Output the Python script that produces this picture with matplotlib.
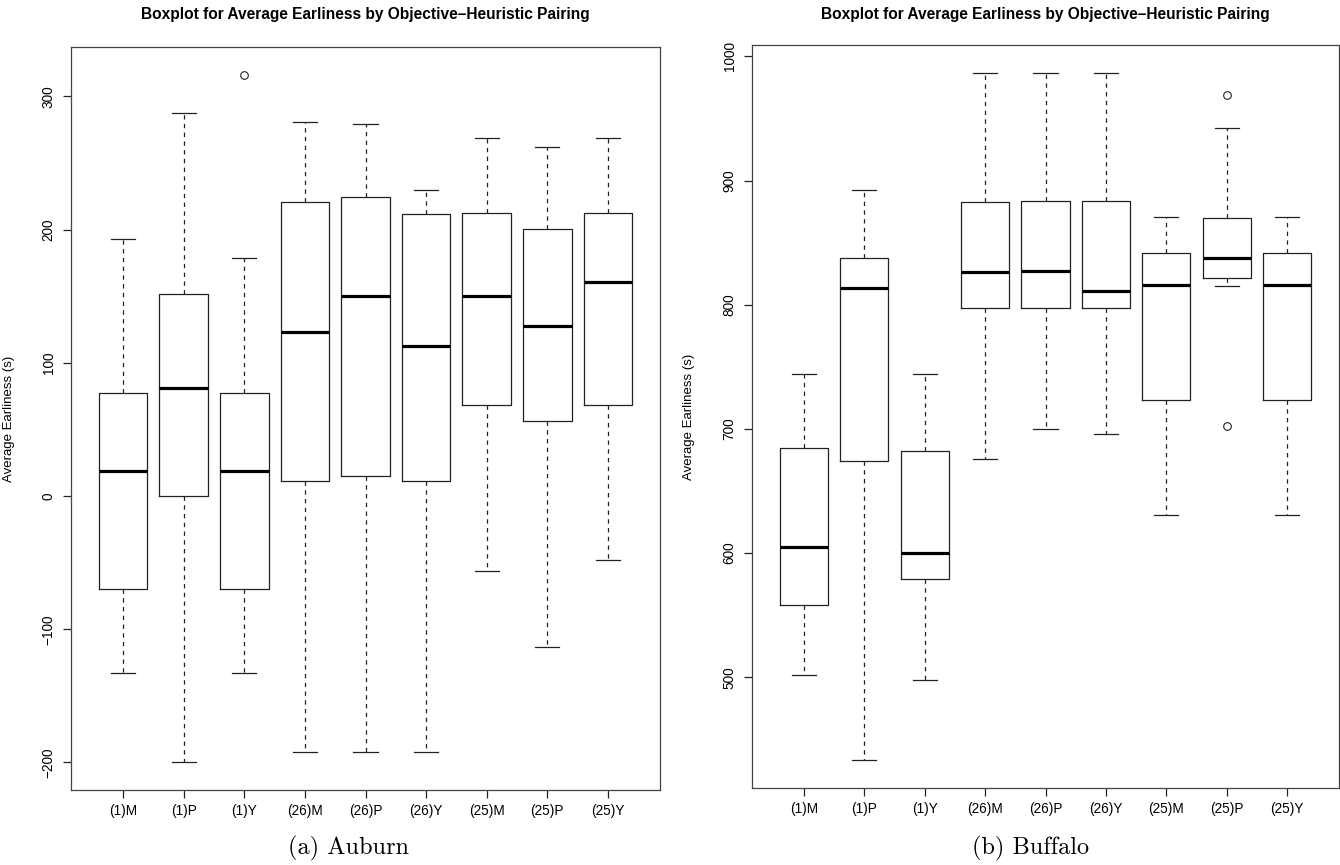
import matplotlib
matplotlib.use("Agg")
import matplotlib.pyplot as plt

categories = ['(1)M', '(1)P', '(1)Y', '(26)M', '(26)P', '(26)Y', '(25)M', '(25)P', '(25)Y']

# Auburn
aub_whislo = [-133, -200, -133, -192, -192, -192, -56, -113, -48]
aub_q1 = [-70, 0, -70, 11, 15, 11, 68.5, 56.5, 68.5]
aub_med = [18.5, 81, 18.5, 123.5, 150, 113, 150.5, 127.5, 160.5]
aub_q3 = [77.5, 152, 77.5, 220.5, 224.5, 211.5, 212.5, 200.5, 212.5]
aub_whishi = [193, 287.5, 179, 281, 279.5, 230, 268.5, 262, 268.5]
aub_fliers = [[], [], [316.5], [], [], [], [], [], []]
aub_yticks = [-200, -100, 0, 100, 200, 300]

# Buffalo
buf_whislo = [501.5, 433, 498, 676, 700, 696, 630.5, 815, 630.5]
buf_q1 = [558, 674, 579, 797, 797, 797, 723, 821.5, 723]
buf_med = [605, 813.5, 600, 826.5, 827, 811, 816, 838, 816]
buf_q3 = [684.5, 838, 682.5, 883, 883.5, 883.5, 842, 870, 842]
buf_whishi = [744, 892, 744, 987, 987, 987, 871, 942, 871]
buf_fliers = [[], [], [], [], [], [], [], [969, 702], []]
buf_yticks = [500, 600, 700, 800, 900, 1000]

title = "Boxplot for Average Earliness by Objective\u2013Heuristic Pairing"
ylabel = "Average Earliness (s)"
captions = ["(a) Auburn", "(b) Buffalo"]

W, H = 1340, 865
fig = plt.figure(figsize=(W / 100, H / 100), dpi=100)
plt.rcParams['font.family'] = ['Liberation Sans', 'DejaVu Sans']

LC = '#222222'
LW = 0.9


def panel(rect_px, whislo, q1, med, q3, whishi, fliers, yticks, caption, cap_x, ylab_x):
    x0, y0, x1, y1 = rect_px
    ax = fig.add_axes([x0 / W, 1 - y1 / H, (x1 - x0) / W, (y1 - y0) / H])
    stats = []
    for i in range(len(categories)):
        stats.append(dict(whislo=whislo[i], q1=q1[i], med=med[i], q3=q3[i],
                          whishi=whishi[i], fliers=fliers[i], label=categories[i]))
    pos = list(range(1, len(categories) + 1))
    ax.bxp(stats, positions=pos, widths=0.8, capwidths=0.4,
           showfliers=True, patch_artist=False,
           boxprops=dict(color=LC, lw=LW),
           whiskerprops=dict(color=LC, lw=LW, linestyle=(0, (3.5, 3.5))),
           capprops=dict(color=LC, lw=LW),
           medianprops=dict(color='black', lw=2.3, solid_capstyle='butt'),
           flierprops=dict(marker='o', markerfacecolor='none', markeredgecolor=LC,
                           markersize=5.5, markeredgewidth=0.8))
    n = len(categories)
    ax.set_xlim(0.5 - 0.04 * n, n + 0.5 + 0.04 * n)
    allv = whislo + whishi + [v for f in fliers for v in f]
    lo, hi = min(allv), max(allv)
    pad = 0.04 * (hi - lo)
    ax.set_ylim(lo - pad, hi + pad)
    ax.set_xticks(pos)
    ax.set_xticklabels(categories, fontsize=9.8)
    ax.set_yticks(yticks)
    ax.set_yticklabels([str(v).replace('-', '\u2212') for v in yticks],
                       rotation=90, va='center', fontsize=9.8)
    ax.tick_params(axis='both', direction='out', length=6, width=LW, color=LC)
    ax.tick_params(axis='x', pad=4)
    ax.tick_params(axis='y', pad=5)
    for s in ax.spines.values():
        s.set_color('#444444')
        s.set_linewidth(LW)
    ax.set_ylabel(ylabel, fontsize=9.5)
    ax.yaxis.set_label_coords((ylab_x - x0) / (x1 - x0), 0.5)
    fig.text(((x0 + x1) / 2) / W, 1 - 15 / H, title, ha='center', va='center',
             fontsize=11.2, fontweight='bold')
    fig.text(cap_x / W, 1 - 848 / H, caption, ha='center', va='center',
             fontsize=17.5, family='cmr10')
    return ax


panel((71, 47, 660, 790), aub_whislo, aub_q1, aub_med, aub_q3, aub_whishi, aub_fliers,
      aub_yticks, captions[0], 349, 15)
panel((752, 45, 1339, 788), buf_whislo, buf_q1, buf_med, buf_q3, buf_whishi, buf_fliers,
      buf_yticks, captions[1], 1031, 695)

fig.savefig('out.png', dpi=100)
